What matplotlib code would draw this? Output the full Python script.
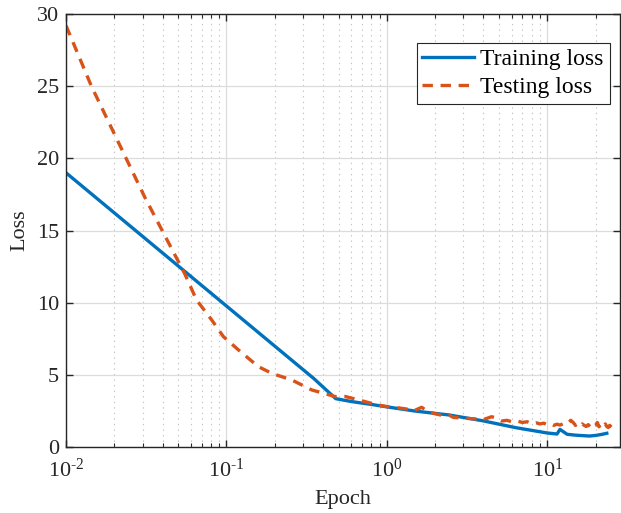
import matplotlib
matplotlib.use("Agg")
import matplotlib.pyplot as plt
from matplotlib.ticker import LogLocator, FixedLocator, NullFormatter, FuncFormatter
import numpy as np

# Loss curves
train_epoch = [0.01, 0.35, 0.48, 0.6, 0.8, 1.0, 1.5, 2.44, 3.95, 6.36, 10.0,
               11.5, 12.0, 13.3, 15.0, 18.3, 20.0, 22.0, 23.5]
train_loss = [19.0, 4.75, 3.35, 3.15, 2.95, 2.78, 2.49, 2.22, 1.82, 1.34, 0.97,
              0.9, 1.22, 0.88, 0.82, 0.76, 0.8, 0.88, 0.95]

test_epoch = [0.01, 0.0144, 0.031, 0.055, 0.065, 0.081, 0.0957, 0.119, 0.158,
              0.192, 0.256, 0.341, 0.478, 0.55, 0.7, 0.85, 1.0, 1.2, 1.5,
              1.65, 1.8, 2.0, 2.3, 2.45, 2.6, 3.0, 3.5, 4.0, 4.5, 4.8, 5.2,
              5.6, 6.0, 6.5, 7.0, 7.5, 8.0, 8.5, 9.0, 9.5, 10.0, 10.5, 11.0,
              11.5, 12.0, 12.5, 13.0, 13.5, 14.0, 14.5, 15.0, 15.5, 16.0,
              16.5, 17.0, 17.5, 18.0, 18.5, 19.0, 19.5, 20.0, 20.5, 21.0,
              21.5, 22.0, 22.5, 23.0, 23.5, 24.0, 24.5, 25.0, 25.5, 26.0,
              26.5, 27.0]
test_loss = [29.2, 25.0, 17.3, 12.0, 10.2, 8.8, 7.65, 6.72, 5.57,
             5.1, 4.64, 3.95, 3.49, 3.5, 3.2, 2.95, 2.8, 2.7, 2.55,
             2.75, 2.45, 2.3, 2.15, 2.2, 2.05, 2.0, 1.95, 1.9, 2.1, 2.0, 1.8,
             1.85, 1.75, 1.8, 1.7, 1.75, 1.62, 1.68, 1.6, 1.65, 1.55, 1.62, 1.5,
             1.58, 1.52, 1.6, 1.55, 1.65, 1.85, 1.7, 1.5, 1.62, 1.45,
             1.6, 1.5, 1.42, 1.55, 1.4, 1.58, 1.45, 1.5, 1.7, 1.4,
             1.55, 1.45, 1.38, 1.6, 1.42, 1.35, 1.5, 1.4, 1.3, 1.42,
             1.32, 1.35]

BLUE = "#0072BD"
ORANGE = "#D95319"
AXCOL = "#262626"

plt.rcParams["font.family"] = ["Liberation Serif", "DejaVu Serif"]
plt.rcParams["mathtext.fontset"] = "custom"
plt.rcParams["mathtext.rm"] = "Liberation Serif"
plt.rcParams["mathtext.it"] = "Liberation Serif:italic"
plt.rcParams["axes.unicode_minus"] = False
plt.rcParams["font.size"] = 16
plt.rcParams["lines.scale_dashes"] = False


def pow10(v, pos):
    e = int(round(np.log10(v)))
    return r"$\mathregular{10^{\text{%d}}}$" % e


fig = plt.figure(figsize=(6.21, 5.13), dpi=100)
ax = fig.add_axes([66 / 621, 66 / 513, 553.5 / 621, 433 / 513])

ax.plot(train_epoch, train_loss, color=BLUE, lw=2.4, label="Training loss")
ax.plot(test_epoch, test_loss, color=ORANGE, lw=2.4, dashes=(7.5, 5.5),
        dash_capstyle="butt", label="Testing loss")

ax.set_xscale("log")
ax.set_xlim(0.01, 28.2)
ax.set_ylim(0, 30)
ax.set_yticks([0, 5, 10, 15, 20, 25, 30])
ax.xaxis.set_major_locator(FixedLocator([0.01, 0.1, 1, 10]))
ax.xaxis.set_major_formatter(FuncFormatter(pow10))
ax.xaxis.set_minor_locator(LogLocator(base=10, subs=range(2, 10), numticks=20))
ax.xaxis.set_minor_formatter(NullFormatter())

ax.grid(True, which="major", color="#dcdcdc", lw=0.9, ls="-")
ax.grid(True, which="minor", axis="x", color="#c4c4c4", lw=0.8, ls=(0, (1, 3)))
ax.set_axisbelow(True)

for sp in ax.spines.values():
    sp.set_color(AXCOL)
    sp.set_linewidth(1.0)
ax.tick_params(which="both", direction="in", top=True, right=True,
               colors=AXCOL, labelcolor=AXCOL)
ax.tick_params(which="major", length=5, width=1.0, labelsize=16)
ax.tick_params(axis="x", which="major", pad=8)
ax.tick_params(axis="y", which="major", pad=5)
ax.tick_params(which="minor", length=3, width=0.8)

ax.set_xlabel("Epoch", fontsize=16, color=AXCOL, labelpad=6)
ax.set_ylabel("Loss", fontsize=16, color=AXCOL, labelpad=5)

leg = ax.legend(loc="upper right", bbox_to_anchor=(0.982, 0.933),
                borderaxespad=0, fancybox=False, framealpha=1,
                edgecolor=AXCOL, fontsize=17, handlelength=2.2,
                handletextpad=0.25, borderpad=0.25, labelspacing=0.25)
leg.get_frame().set_linewidth(0.8)

fig.savefig("out.png", dpi=100)
